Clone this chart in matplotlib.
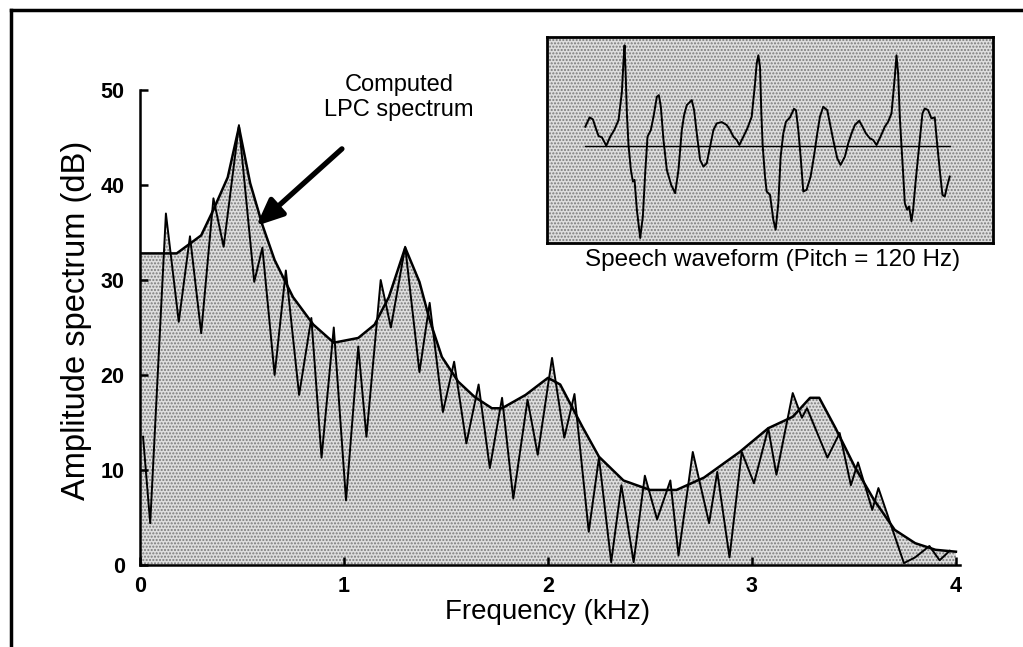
import numpy as np
import matplotlib
matplotlib.use("Agg")
import matplotlib.pyplot as plt
from matplotlib.lines import Line2D

plt.rcParams['font.family'] = ['Liberation Sans', 'DejaVu Sans']
plt.rcParams['hatch.linewidth'] = 1.0

# harmonic (FFT) spectrum: peaks and dips, kHz / dB
harm_f = [0.015, 0.05, 0.127, 0.19, 0.245, 0.30, 0.36, 0.41, 0.485, 0.56,
          0.60, 0.66, 0.715, 0.78, 0.84, 0.89, 0.95, 1.01, 1.07, 1.11,
          1.18, 1.23, 1.30, 1.37, 1.42, 1.485, 1.54, 1.60, 1.66, 1.715,
          1.775, 1.83, 1.90, 1.95, 2.02, 2.08, 2.13, 2.20, 2.25, 2.31,
          2.36, 2.42, 2.475, 2.535, 2.60, 2.64, 2.71, 2.79, 2.83, 2.89,
          2.95, 3.01, 3.08, 3.12, 3.20, 3.245, 3.27, 3.37, 3.43, 3.485,
          3.52, 3.59, 3.62, 3.745, 3.80, 3.87, 3.92, 3.97]
harm_db = [13.5, 4.4, 37, 25.6, 34.6, 24.4, 38.6, 33.5, 46.3, 29.8,
           33.4, 20, 31, 17.9, 26, 11.3, 25, 6.8, 23, 13.5,
           30, 25, 33.5, 20.3, 27.6, 16.1, 21.4, 12.8, 19, 10.2,
           17.6, 7, 17.4, 11.6, 21.8, 13.4, 18, 3.5, 11.3, 0.3,
           8.4, 0.3, 9.4, 4.8, 8.9, 1, 11.9, 4.4, 9.8, 0.8,
           11.9, 8.6, 14.4, 9.5, 18.1, 15.5, 16.5, 11.3, 13.9, 8.4,
           10.8, 5.8, 8.1, 0.2, 0.8, 2.0, 0.5, 1.5]

# LPC envelope
env_f = [0.0, 0.18, 0.30, 0.36, 0.43, 0.485, 0.54, 0.60, 0.66, 0.75,
         0.85, 0.95, 1.07, 1.15, 1.22, 1.30, 1.37, 1.42, 1.48, 1.56,
         1.64, 1.725, 1.775, 1.89, 2.00, 2.06, 2.17, 2.25, 2.37, 2.50,
         2.63, 2.765, 2.94, 3.08, 3.20, 3.285, 3.33, 3.41, 3.505, 3.60,
         3.70, 3.80, 3.90, 4.0]
env_db = [32.8, 32.8, 34.7, 37.4, 40.8, 46.1, 40.2, 35.8, 32.1, 28.2,
          25.3, 23.4, 23.9, 25.3, 28.2, 33.4, 29.8, 25.8, 21.9, 19.3,
          17.7, 16.5, 16.5, 17.9, 19.7, 19.0, 14.5, 11.4, 8.9, 7.9,
          7.9, 9.2, 11.9, 14.4, 15.6, 17.6, 17.6, 14.4, 10.3, 6.8,
          3.7, 2.3, 1.6, 1.4]

# speech waveform in the inset (arbitrary time / amplitude units)
wave_t = [0, 13, 23, 30, 40, 50, 63, 75, 87, 100, 110, 115, 118, 121, 125,
          130, 137, 143, 148, 155, 165, 173, 180, 187, 197, 205, 215, 221,
          227, 235, 245, 258, 270, 280, 290, 297, 305, 320, 327, 335, 345,
          355, 365, 375, 385, 395, 410, 425, 435, 445, 455, 463,
          475, 487, 500, 510, 515, 520, 525, 529, 533, 540, 545, 555, 565,
          572, 580, 587, 595, 603, 615, 627, 633, 640, 647, 655, 665, 677,
          687, 697, 705, 715, 727, 735, 745, 757, 767, 780, 790, 800, 810,
          823, 833, 843, 855, 865, 875,
          887, 900, 910, 920, 930, 935, 940, 945, 950, 955, 960, 967, 973,
          980, 985, 993, 1005, 1013, 1020, 1030, 1040, 1050, 1057, 1065,
          1073, 1080, 1087, 1095]
wave_a = [57, 85, 79, 57, 29, 25, 0, 27, 47, 77, 162, 257, 302, 227, 97,
          0, -73, -108, -103, -193, -278, -213, -83, 27, 47, 87, 147, 152,
          117, 17, -73, -118, -143, -73, 47, 92, 122, 137, 107, 37, -43,
          -63, -53, -3, 47, 67, 71, 62, 47, 27, 17, 2,
          27, 52, 87, 187, 247, 272, 237, 97, 0, -93, -138, -148, -223,
          -253, -173, -33, 37, 72, 85, 111, 107, 47, -33, -138, -133, -93,
          -33, 37, 87, 117, 107, 67, 17, -38, -58, -33, 7, 37, 62,
          75, 57, 37, 22, 17, 2,
          27, 57, 72, 97, 207, 272, 217, 87, 0, -83, -173, -193, -183,
          -228, -193, -103, 17, 97, 112, 107, 82, 85, 7, -73,
          -148, -153, -123, -93]

y_ticks = [0, 10, 20, 30, 40, 50]
x_ticks = [0, 1, 2, 3, 4]

fig = plt.figure(figsize=(10.23, 6.47), dpi=100)
W, H = 1023, 647

ax = fig.add_axes([140 / W, (H - 565) / H, 820 / W, 475 / H])
fill_kw = dict(facecolor='#dedede', edgecolor='#7a7a7a', hatch='.....', linewidth=0)
ax.fill_between(env_f, env_db, 0, **fill_kw)
ax.fill_between(harm_f, harm_db, 0, **fill_kw)
ax.plot(env_f, env_db, color='black', lw=1.8, solid_joinstyle='round')
ax.plot(harm_f, harm_db, color='black', lw=1.4, solid_joinstyle='round')

ax.set_xlim(0, 4.02)
ax.set_ylim(0, 50)
ax.set_xticks(x_ticks)
ax.set_yticks(y_ticks)
for s in ['top', 'right']:
    ax.spines[s].set_visible(False)
for s in ['left', 'bottom']:
    ax.spines[s].set_linewidth(1.8)
ax.tick_params(direction='in', length=6, width=1.8, labelsize=15.5)
ax.tick_params(axis='y', pad=11)
ax.tick_params(axis='x', pad=8)
for lab in ax.get_xticklabels() + ax.get_yticklabels():
    lab.set_fontweight('bold')

ax.set_xlabel('Frequency (kHz)', fontsize=20)
ax.xaxis.set_label_coords(0.4976, -0.072)
ax.set_ylabel('Amplitude spectrum (dB)', fontsize=23.5)
ax.yaxis.set_label_coords(-0.0585, 0.514)

ax.text(1.27, 51.7, 'Computed\nLPC spectrum', ha='center', va='top',
        fontsize=17, linespacing=1.2)
ax.annotate('', xy=(0.56, 35.5), xytext=(1.0, 44),
            arrowprops=dict(arrowstyle='-|>,head_length=1.6,head_width=0.7',
                            color='black', lw=3.8))

# inset with the speech waveform
ins = fig.add_axes([547 / W, (H - 243) / H, 446 / W, 206 / H])
ins.set_facecolor('#dedede')
ins.fill_between([-115, 1225], -293, 327, facecolor='#dedede',
                 edgecolor='#7a7a7a', hatch='.....', linewidth=0)
ins.plot([0, 1095], [0, 0], color='black', lw=1.0)
ins.plot(wave_t, wave_a, color='black', lw=1.4, solid_joinstyle='round')
ins.set_xlim(-115, 1225)
ins.set_ylim(-293, 327)
ins.set_xticks([])
ins.set_yticks([])
for s in ins.spines.values():
    s.set_linewidth(2.0)
fig.text(773 / W, 1 - 260 / H, 'Speech waveform (Pitch = 120 Hz)',
         ha='center', va='center', fontsize=17.5)

# frame of the scanned page
fig.add_artist(Line2D([11 / W, 11 / W], [0, 1 - 10 / H], color='black', lw=2.5))
fig.add_artist(Line2D([11 / W, 1], [1 - 10 / H, 1 - 10 / H], color='black', lw=2.5))

fig.savefig('out.png', dpi=100)
